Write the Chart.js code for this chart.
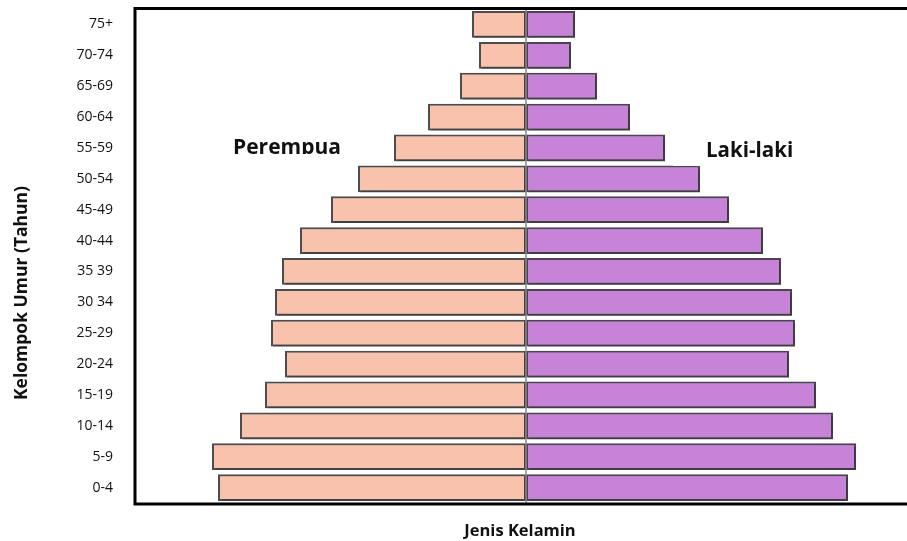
<!DOCTYPE html>
<html>
<head>
<meta charset="utf-8">
<script src="https://cdn.jsdelivr.net/npm/chart.js@4/dist/chart.umd.min.js"></script>
<style>
  html, body { margin: 0; padding: 0; background: #fff; overflow: hidden; }
  #pyramid { display: block; }
</style>
</head>
<body>
<canvas id="pyramid" width="907" height="541"></canvas>
<script>
// kelompok umur, dari atas ke bawah
const ageGroups = ['75+', '70-74', '65-69', '60-64', '55-59', '50-54', '45-49', '40-44',
  '35 39', '30 34', '25-29', '20-24', '15-19', '10-14', '5-9', '0-4'];
// lebar batang
const perempuan = [54, 47, 66, 98, 132, 168, 195, 226, 244, 251, 255, 241, 261, 286, 314, 308];
const lakiLaki = [49, 45, 71, 104, 139, 174, 203, 237, 255, 266, 269, 263, 290, 307, 330, 322];

const xMin = -390;
const xMax = 381;

// bingkai, garis tengah, kotak teks dan judul sumbu
const decorPlugin = {
  id: 'decor',
  beforeDatasetsDraw(chart) {
    const ctx = chart.ctx;
    ctx.save();
    ctx.shadowColor = 'rgba(60,60,60,0.75)';
    ctx.shadowOffsetX = 2;
    ctx.shadowOffsetY = 2;
    ctx.shadowBlur = 0;
  },
  afterDatasetsDraw(chart) {
    const ctx = chart.ctx;
    ctx.restore();
    const area = chart.chartArea;
    const x0 = chart.scales.x.getPixelForValue(0);

    // garis tengah
    ctx.save();
    ctx.strokeStyle = '#8a8a8a';
    ctx.lineWidth = 1.5;
    ctx.beginPath();
    ctx.moveTo(x0, area.top);
    ctx.lineTo(x0, area.bottom);
    ctx.stroke();

    // kotak teks putih
    ctx.fillStyle = '#fff';
    ctx.fillRect(215, 128, 154, 35);
    ctx.fillRect(673, 125, 150, 41);

    ctx.fillStyle = '#111';
    ctx.font = 'bold 21px "Open Sans"';
    ctx.textBaseline = 'alphabetic';
    ctx.save();
    ctx.beginPath();
    ctx.rect(215, 128, 154, 26);
    ctx.clip();
    ctx.fillText('Perempua', 233, 154);
    ctx.restore();
    ctx.font = 'bold 20.5px "Open Sans"';
    ctx.fillText('Laki-laki', 706, 157);

    // bingkai
    ctx.strokeStyle = '#000';
    ctx.lineWidth = 3;
    ctx.beginPath();
    ctx.moveTo(907, area.top - 0.5);
    ctx.lineTo(area.left - 1, area.top - 0.5);
    ctx.lineTo(area.left - 1, area.bottom + 1);
    ctx.lineTo(907, area.bottom + 1);
    ctx.stroke();

    // judul sumbu
    ctx.fillStyle = '#111';
    ctx.font = 'bold 16.5px "Open Sans"';
    ctx.textAlign = 'center';
    ctx.textBaseline = 'middle';
    ctx.fillText('Jenis Kelamin', 520, 531);
    ctx.translate(22, 293);
    ctx.rotate(-Math.PI / 2);
    ctx.font = 'bold 17.5px "Open Sans"';
    ctx.fillText('Kelompok Umur (Tahun)', 0, 0);
    ctx.restore();
  }
};

new Chart(document.getElementById('pyramid').getContext('2d'), {
  type: 'bar',
  data: {
    labels: ageGroups,
    datasets: [
      {
        label: 'Perempuan',
        data: perempuan.map(v => -v),
        backgroundColor: '#F8C2AC',
        borderColor: '#4d4d4d',
        borderWidth: 2,
        borderSkipped: false,
        categoryPercentage: 1,
        barPercentage: 0.87
      },
      {
        label: 'Laki-laki',
        data: lakiLaki,
        backgroundColor: '#C783D7',
        borderColor: '#4d4256',
        borderWidth: 2,
        borderSkipped: false,
        categoryPercentage: 1,
        barPercentage: 0.87
      }
    ]
  },
  options: {
    responsive: false,
    animation: false,
    indexAxis: 'y',
    layout: { padding: { left: 0, top: 9, right: 0, bottom: 38 } },
    plugins: {
      legend: { display: false },
      tooltip: { enabled: false }
    },
    scales: {
      x: {
        stacked: true,
        display: false,
        min: xMin,
        max: xMax
      },
      y: {
        stacked: true,
        grid: { display: false, drawTicks: false },
        border: { display: false },
        afterFit(scale) {
          scale.width = 136;
          scale.paddingTop = 0;
          scale.paddingBottom = 0;
        },
        ticks: {
          padding: 23,
          color: '#111',
          font: { family: 'Open Sans', size: 14 }
        }
      }
    }
  },
  plugins: [decorPlugin]
});
</script>
</body>
</html>
